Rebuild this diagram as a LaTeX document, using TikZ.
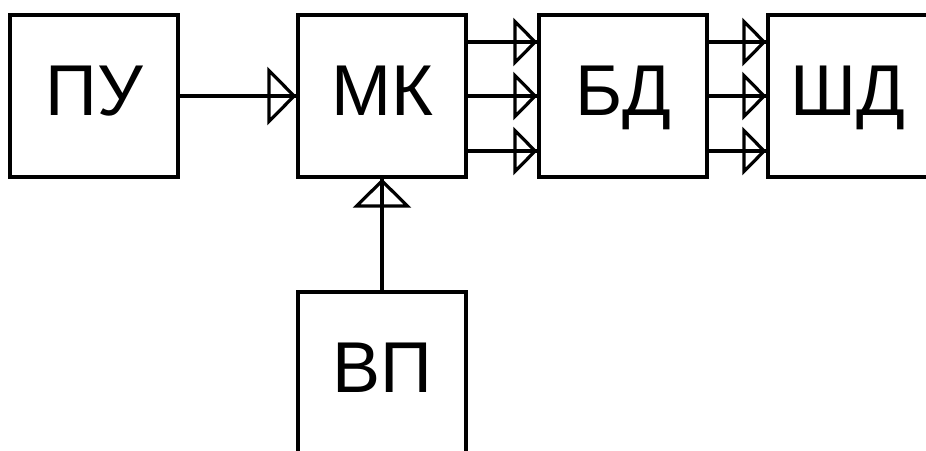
\documentclass[tikz,border=0pt]{standalone}
\usepackage{fontspec}
\setmainfont{Liberation Sans}
\usetikzlibrary{arrows.meta,positioning}

\begin{document}
\begin{tikzpicture}[
  x=1pt, y=1pt,
  node distance=116.8pt,
  blk/.style={draw, line width=3.2pt, minimum width=168pt, minimum height=162pt,
              inner sep=0pt, text depth=10pt, font=\fontsize{72}{72}\selectfont},
  arr/.style={line width=3.2pt,
              postaction={draw, -{Triangle[open, length=29pt, width=58pt]}}},
  bus/.style={line width=3.2pt,
              postaction={draw, -{Triangle[open, length=24pt, width=48pt]}}}
]
\useasboundingbox (0,0) rectangle (926,-450);
\node[blk] (pu) at (94,-96) {ПУ};
\node[blk, right=of pu] (mk) {МК};
\node[blk, right=69.8pt of mk] (bd) {БД};
\node[blk, right=57.8pt of bd, minimum width=160pt] (shd) {ШД};
\node[blk, below=111.8pt of mk] (vp) {ВП};
\draw[arr] (pu) -- (mk);
\draw[arr] (vp) -- (mk);
\foreach \dy in {54,0,-55} {
  \draw[bus] ([yshift=\dy]mk.east) -- ([yshift=\dy]bd.west);
  \draw[bus] ([yshift=\dy]bd.east) -- ([yshift=\dy]shd.west);
}
\end{tikzpicture}
\end{document}
